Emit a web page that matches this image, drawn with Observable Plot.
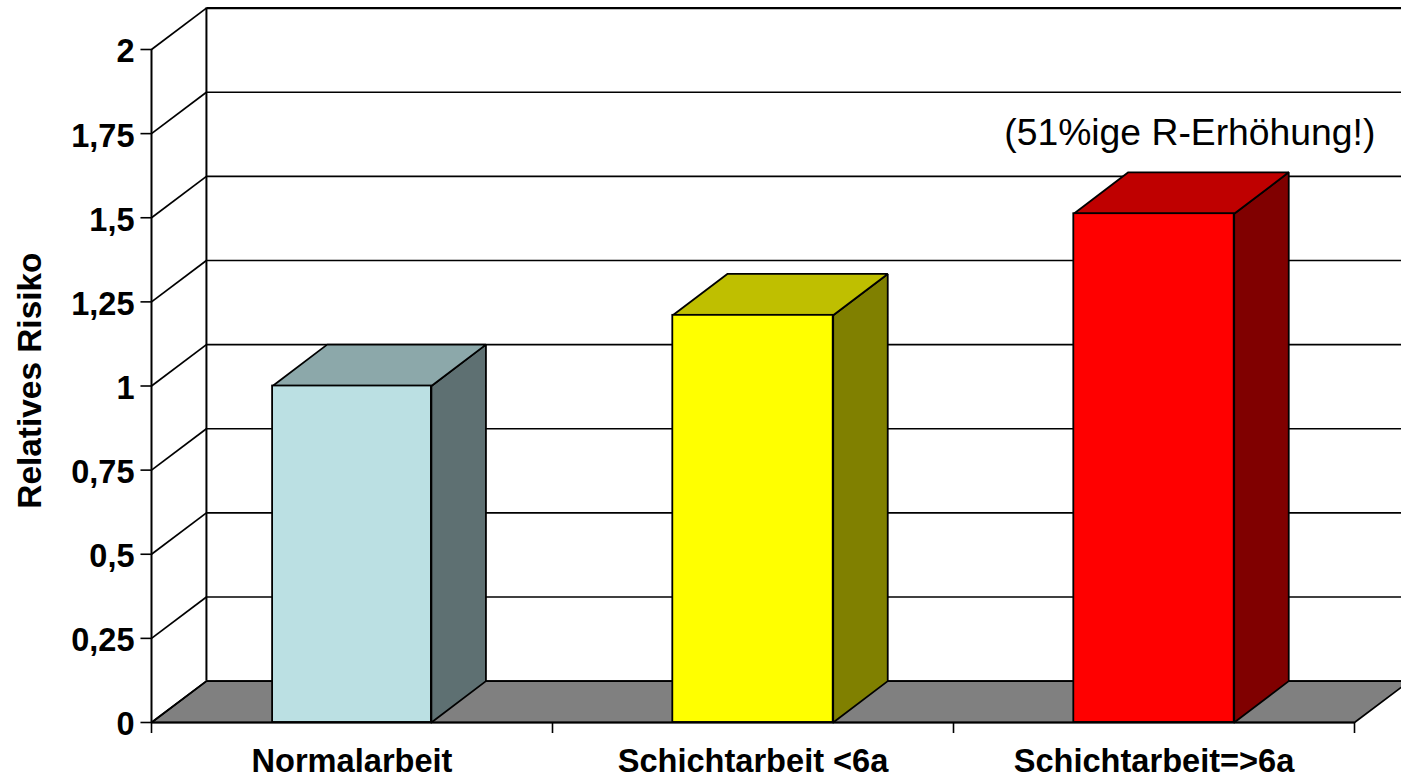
<!DOCTYPE html>
<html>
<head>
<meta charset="utf-8">
<script src="https://cdn.jsdelivr.net/npm/d3@7"></script>
<script src="https://cdn.jsdelivr.net/npm/@observablehq/plot@0.6"></script>
<style>
html,body{margin:0;padding:0;background:#fff;overflow:hidden}
svg{display:block}
</style>
</head>
<body>
<div id="chart"></div>
<script>
const categories = ["Normalarbeit", "Schichtarbeit <6a", "Schichtarbeit=>6a"];
const values = [1.0, 1.21, 1.512];
const frontColors = ["#BBE0E3", "#FFFF00", "#FF0000"];
const topColors = ["#8CA8AA", "#BFBF00", "#BF0000"];
const sideColors = ["#5E7072", "#808000", "#800000"];
const yTicks = [0, 0.25, 0.5, 0.75, 1, 1.25, 1.5, 1.75, 2];
const xTicks = [0, 1, 2, 3];
const floorColor = "#808080";
const yTitle = "Relatives Risiko";
const note = "(51%ige R-Erhöhung!)";

// depth of the pseudo-3D projection, in data units
const depthX = 0.137, depthY = 0.123;
const barDepthX = 0.136;
const barHalf = 0.2;

const bars = categories.map((name, i) => ({
  name, value: values[i], x1: i + 0.5 - barHalf + (i === 0 ? 0.002 : 0), x2: i + 0.5 + barHalf - (i === 0 ? 0.002 : 0),
  front: frontColors[i], top: topColors[i], side: sideColors[i]
}));

const faces = [];
function face(id, fill, pts) {
  [...pts, pts[0]].forEach(([x, y]) => faces.push({id, fill, x, y}));
}
bars.forEach((b, i) => {
  face("side" + i, b.side, [[b.x2, 0], [b.x2 + barDepthX, depthY], [b.x2 + barDepthX, b.value + depthY], [b.x2, b.value]]);
  face("top" + i, b.top, [[b.x1, b.value], [b.x2, b.value], [b.x2 + barDepthX, b.value + depthY], [b.x1 + barDepthX, b.value + depthY]]);
});
const floorFace = [];
[[0, 0], [3, 0], [3 + depthX, depthY], [depthX, depthY], [0, 0]].forEach(([x, y]) => floorFace.push({x, y}));

const ink = "#000";
const plot = Plot.plot({
  width: 1401,
  height: 778,
  marginLeft: 151,
  marginRight: 47,
  marginTop: 49,
  marginBottom: 56,
  style: {fontFamily: "'Liberation Sans', Arial, sans-serif", color: ink, background: "#fff", overflow: "hidden"},
  x: {type: "linear", domain: [0, 3]},
  y: {type: "linear", domain: [0, 2]},
  marks: [
    // floor
    Plot.line(floorFace, {x: "x", y: "y", fill: floorColor, stroke: ink, strokeWidth: 1.7}),
    // back wall gridlines and side wall gridlines
    Plot.link(yTicks, {x1: depthX, x2: 3 + depthX, y1: d => d + depthY, y2: d => d + depthY, stroke: ink, strokeWidth: d => d === 2 ? 2.2 : 1.7}),
    Plot.link(yTicks, {x1: 0, x2: depthX, y1: d => d, y2: d => d + depthY, stroke: ink, strokeWidth: 1.7}),
    Plot.ruleX([depthX], {y1: depthY, y2: 2 + depthY, stroke: ink, strokeWidth: 2}),
    Plot.ruleX([0], {y1: 0, y2: 2, stroke: ink, strokeWidth: 2}),
    // bars
    Plot.line(faces, {x: "x", y: "y", z: "id", fill: "fill", stroke: ink, strokeWidth: 1.8, strokeLinejoin: "miter"}),
    Plot.rect(bars, {x1: "x1", x2: "x2", y1: 0, y2: "value", fill: "front", stroke: ink, strokeWidth: 1.8}),
    Plot.ruleY([0], {x1: 0, x2: 3, stroke: ink, strokeWidth: 2.2}),
    // axes
    Plot.link(yTicks, {x1: -0.0275, x2: 0, y1: d => d, y2: d => d, stroke: ink, strokeWidth: 1.6}),
    Plot.axisY({
      ticks: yTicks, tickSize: 0, tickPadding: 17, dy: 2.5, fontSize: 32.5, fontWeight: "bold",
      tickFormat: d => String(d).replace(".", ","), label: null
    }),
    Plot.axisX({ticks: xTicks, tickSize: 11, tickFormat: () => "", stroke: ink, strokeWidth: 1.6, label: null}),
    Plot.text([yTitle], {x: -0.302, y: 1.016, text: d => d, rotate: -90, fontSize: 33.4, fontWeight: "bold", fill: ink, lineAnchor: "middle"}),
    Plot.text(bars, {x: d => (d.x1 + d.x2) / 2, y: 0, text: "name", dy: 39, fontSize: 32.6, fontWeight: "bold", fill: ink, lineAnchor: "middle"}),
    Plot.text([note], {x: 3.052, y: 1.752, text: d => d, textAnchor: "end", fontSize: 37.3, fill: ink, lineAnchor: "middle"})
  ]
});
document.getElementById("chart").appendChild(plot);
</script>
</body>
</html>
